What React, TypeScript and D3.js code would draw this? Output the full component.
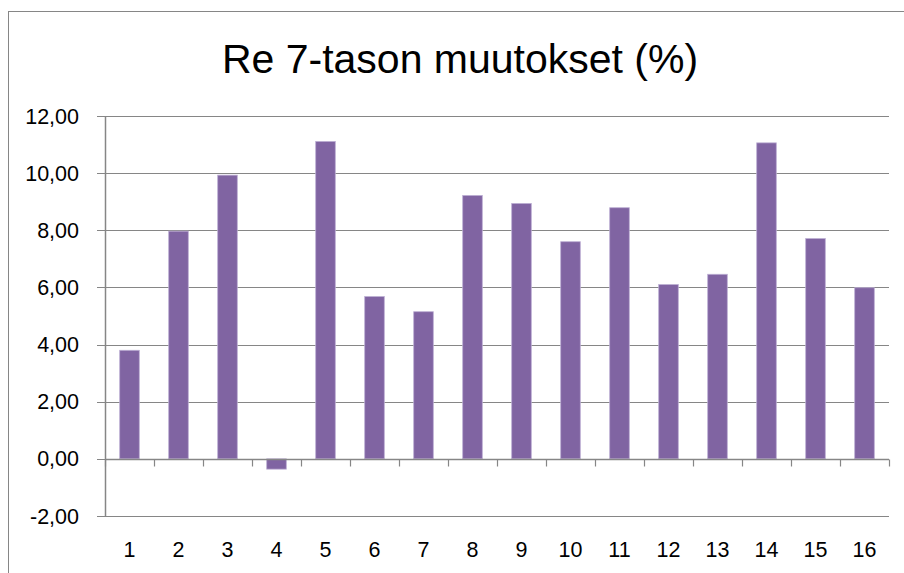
import React, { useEffect, useRef } from 'react';
import * as d3 from 'd3';

const categories = ['1', '2', '3', '4', '5', '6', '7', '8', '9', '10', '11', '12', '13', '14', '15', '16'];
const values = [3.8, 7.97, 9.93, -0.36, 11.11, 5.68, 5.15, 9.22, 8.94, 7.6, 8.79, 6.1, 6.46, 11.06, 7.71, 5.99];
const yTicks = [-2, 0, 2, 4, 6, 8, 10, 12];
const title = 'Re 7-tason muutokset (%)';

export default function App() {
  const svgRef = useRef<SVGSVGElement>(null);

  useEffect(() => {
    if (!svgRef.current) return;
    const width = 904;
    const height = 573;
    const svg = d3.select(svgRef.current);
    svg.selectAll('*').remove();
    svg.attr('width', width).attr('height', height);

    const font = '"Liberation Sans", Arial, sans-serif';
    const gray = '#868686';

    // chart frame (runs off the right and bottom edge)
    svg.append('rect')
      .attr('x', 8.5).attr('y', 11.5)
      .attr('width', 1000).attr('height', 1000)
      .attr('fill', '#fff')
      .attr('stroke', gray)
      .attr('stroke-width', 1);

    svg.append('text')
      .attr('x', 460).attr('y', 73)
      .attr('text-anchor', 'middle')
      .style('font-family', font)
      .style('font-size', '41px')
      .style('fill', '#000')
      .text(title);

    const left = 105;
    const right = 889;
    const x = d3.scaleBand<string>()
      .domain(categories)
      .range([left, right])
      .paddingInner(0.6)
      .paddingOuter(0.3);
    const y = d3.scaleLinear().domain([-2, 12]).range([516, 116]);

    // gridlines + y ticks
    const grid = svg.append('g');
    grid.selectAll('line')
      .data(yTicks)
      .join('line')
        .attr('x1', left - 8).attr('x2', right)
        .attr('y1', d => Math.round(y(d)) + 0.5)
        .attr('y2', d => Math.round(y(d)) + 0.5)
        .attr('stroke', gray)
        .attr('stroke-width', 1.2);

    // comma decimals, plain hyphen for negatives
    grid.selectAll('text')
      .data(yTicks)
      .join('text')
        .attr('x', 79)
        .attr('y', d => y(d) + 7.5)
        .attr('text-anchor', 'end')
        .style('font-family', font)
        .style('font-size', '21.5px')
        .style('fill', '#000')
        .text(d => d.toFixed(2).replace('.', ','));

    // bars
    svg.append('g')
      .selectAll('rect')
      .data(values)
      .join('rect')
        .attr('x', (d, i) => x(categories[i])!)
        .attr('width', x.bandwidth())
        .attr('y', d => y(Math.max(0, d)))
        .attr('height', d => Math.abs(y(d) - y(0)))
        .attr('fill', '#8064A2')
        .attr('stroke', '#BCAED3')
        .attr('stroke-width', 0.8);

    // left axis line
    svg.append('line')
      .attr('x1', left + 0.5).attr('x2', left + 0.5)
      .attr('y1', y(12)).attr('y2', y(-2))
      .attr('stroke', gray)
      .attr('stroke-width', 1.5);

    // category axis at zero
    const y0 = Math.round(y(0)) + 0.5;
    svg.append('line')
      .attr('x1', left).attr('x2', right)
      .attr('y1', y0).attr('y2', y0)
      .attr('stroke', gray)
      .attr('stroke-width', 1.5);

    const step = x.step();
    svg.append('g')
      .selectAll('line')
      .data(d3.range(categories.length + 1))
      .join('line')
        .attr('x1', i => Math.round(left + i * step) + 0.5)
        .attr('x2', i => Math.round(left + i * step) + 0.5)
        .attr('y1', y0).attr('y2', y0 + 7)
        .attr('stroke', gray)
        .attr('stroke-width', 1.2);

    svg.append('g')
      .selectAll('text')
      .data(categories)
      .join('text')
        .attr('x', d => x(d)! + x.bandwidth() / 2)
        .attr('y', 557)
        .attr('text-anchor', 'middle')
        .style('font-family', font)
        .style('font-size', '21.5px')
        .style('fill', '#000')
        .text(d => d);
  }, []);

  return (
    <div style={{ position: 'absolute', left: 0, top: 0 }}>
      <svg ref={svgRef}></svg>
    </div>
  );
}
